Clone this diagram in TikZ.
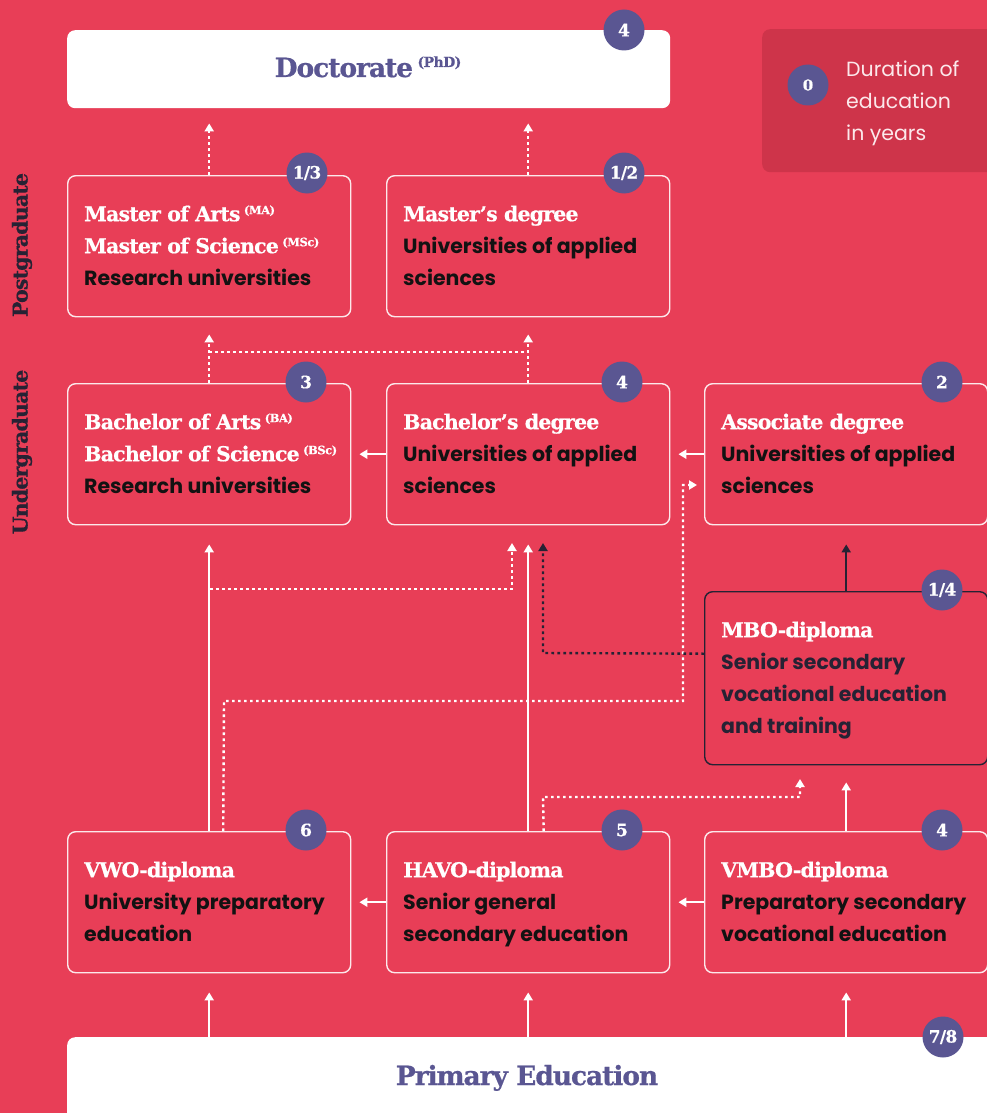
\documentclass[tikz,border=0pt]{standalone}
\usepackage{fontspec}
\setmainfont{DejaVu Serif}[BoldFeatures={LetterSpace=-4,FakeBold=0.6}]
\setsansfont{Poppins}
\usetikzlibrary{arrows.meta,calc}
\definecolor{bg}{HTML}{E83E57}
\definecolor{legbg}{HTML}{CE344A}
\definecolor{purp}{HTML}{5A5692}
\definecolor{ink}{HTML}{121212}
\definecolor{navy}{HTML}{262234}
\definecolor{soft}{HTML}{FCE8EB}
\newcommand{\Ttl}{\rmfamily\bfseries\fontsize{20.5}{32}\selectfont}
\newcommand{\Bdy}{\sffamily\bfseries\fontsize{20.5}{32}\selectfont}
\newcommand{\SupT}[1]{\,\raisebox{7pt}{\fontsize{11.5}{11.5}\selectfont #1}}
\newcommand{\Fst}{\rule{0pt}{20pt}}
\begin{document}
\begin{tikzpicture}[x=1pt,y=-1pt,
  box/.style={draw=soft, line width=1.4pt, rounded corners=8pt, anchor=north west, inner sep=0pt, minimum width=283pt, minimum height=141pt},
  badge/.style={circle, fill=purp, text=white, minimum size=41pt, inner sep=0pt, font=\rmfamily\bfseries\fontsize{17}{17}\selectfont},
  txt/.style={anchor=north west, align=left, inner sep=0pt, font=\Bdy, text=ink},
  arr/.style={draw=white, line width=2.4pt, -{Triangle[width=9pt,length=8pt]}},
  darr/.style={arr, draw=navy},
  dotarr/.style={arr, dash pattern=on 2.6pt off 3.4pt},
  ddotarr/.style={darr, dash pattern=on 2.6pt off 3.4pt},
  dotl/.style={draw=white, line width=2.4pt, dash pattern=on 2.6pt off 3.4pt},
  side/.style={rotate=90, font=\rmfamily\bfseries\fontsize{20.5}{20.5}\selectfont, text=navy, inner sep=0pt}
]
\clip (0,0) rectangle (987,1113);
\fill[bg] (0,0) rectangle (987,1113);

% side labels
\node[side] (pg) at (22,245) {Postgraduate};
\node[side] (ug) at (22,452) {Undergraduate};

% legend
\node[fill=legbg, rounded corners=8pt, anchor=north west, minimum width=240pt, minimum height=143pt, inner sep=0pt] (leg) at (762,29) {};
\node[badge, font=\rmfamily\bfseries\fontsize{15}{15}\selectfont] (legb) at (808,85) {0};
\node[anchor=north west, align=left, inner sep=0pt, text=soft, font=\sffamily\fontsize{20.5}{32}\selectfont] (legt) at (846,56) {\Fst Duration of\\education\\in years};

% doctorate
\node[fill=white, rounded corners=8pt, anchor=north west, minimum width=603pt, minimum height=78pt, inner sep=0pt] (doc) at (67,30) {};
\node[anchor=base, inner sep=0pt, text=purp, font=\rmfamily\bfseries\fontsize{26.5}{27}\selectfont] (doct) at (368,77) {Doctorate\,\raisebox{10pt}{\fontsize{14}{14}\selectfont (PhD)}};
\node[badge] (docb) at (624,30) {4};

% master row
\node[box] (ma) at (67,175) {};
\node[txt] (mat) at ($(ma.north west)+(17,26)$) {\Fst{\Ttl\color{white}Master of Arts\SupT{(MA)}}\\{\Ttl\color{white}Master of Science\SupT{(MSc)}}\\Research universities};
\node[badge] (mab) at (307,173) {1/3};

\node[box] (md) at (386,175) {};
\node[txt] (mdt) at ($(md.north west)+(17,26)$) {\Fst{\Ttl\color{white}Master’s degree}\\Universities of applied\\sciences};
\node[badge] (mdb) at (624,173) {1/2};

% bachelor row
\node[box] (ba) at (67,383) {};
\node[txt] (bat) at ($(ba.north west)+(17,26)$) {\Fst{\Ttl\color{white}Bachelor of Arts\SupT{(BA)}}\\{\Ttl\color{white}Bachelor of Science\SupT{(BSc)}}\\Research universities};
\node[badge] (bab) at (306,382) {3};

\node[box] (bd) at (386,383) {};
\node[txt] (bdt) at ($(bd.north west)+(17,26)$) {\Fst{\Ttl\color{white}Bachelor’s degree}\\Universities of applied\\sciences};
\node[badge] (bdb) at (622,382) {4};

\node[box] (ad) at (704,383) {};
\node[txt] (adt) at ($(ad.north west)+(17,26)$) {\Fst{\Ttl\color{white}Associate degree}\\Universities of applied\\sciences};
\node[badge] (adb) at (942,382) {2};

% MBO
\node[box, draw=navy, minimum height=173pt] (mbo) at (704,591) {};
\node[txt, text=navy] (mbot) at ($(mbo.north west)+(17,26)$) {\Fst{\Ttl\color{white}MBO-diploma}\\Senior secondary\\vocational education\\and training};
\node[badge] (mbob) at (942,590) {1/4};

% secondary row
\node[box] (vwo) at (67,831) {};
\node[txt] (vwot) at ($(vwo.north west)+(17,26)$) {\Fst{\Ttl\color{white}VWO-diploma}\\University preparatory\\education};
\node[badge] (vwob) at (306,830) {6};

\node[box] (havo) at (386,831) {};
\node[txt] (havot) at ($(havo.north west)+(17,26)$) {\Fst{\Ttl\color{white}HAVO-diploma}\\Senior general\\secondary education};
\node[badge] (havob) at (622,830) {5};

\node[box] (vmbo) at (704,831) {};
\node[txt] (vmbot) at ($(vmbo.north west)+(17,26)$) {\Fst{\Ttl\color{white}VMBO-diploma}\\Preparatory secondary\\vocational education};
\node[badge] (vmbob) at (942,830) {4};

% primary
\node[fill=white, rounded corners=8pt, anchor=north west, minimum width=940pt, minimum height=110pt, inner sep=0pt] (prim) at (67,1037) {};
\node[anchor=base, inner sep=0pt, text=purp, font=\rmfamily\bfseries\fontsize{26.5}{27}\selectfont] (primt) at (527,1085) {Primary Education};
\node[badge] (primb) at (943,1037) {7/8};

% connectors: to doctorate
\draw[dotarr, shorten >=15pt] (ma.north) -- (ma.north |- doc.south);
\draw[dotarr, shorten >=15pt] (md.north) -- (md.north |- doc.south);
% bachelor to master
\draw[dotarr, shorten >=17pt] (ba.north) -- (ba.north |- ma.south);
\draw[dotarr, shorten >=17pt] (bd.north) -- (bd.north |- md.south);
\coordinate (hl1) at ($(ba.north)+(0,-31)$);
\coordinate (hl2) at ($(bd.north)+(0,-31)$);
\draw[dotl] (hl1) -- (hl2);
% horizontal solid
\draw[arr, shorten >=8pt] (bd.west) -- (ba.east);
\draw[arr, shorten >=8pt] (ad.west) -- (bd.east);
\draw[arr, shorten >=8pt] (havo.west) -- (vwo.east);
\draw[arr, shorten >=8pt] (vmbo.west) -- (havo.east);
% vertical solid
\draw[arr, shorten >=19pt] (vwo.north) -- (ba.south);
\draw[arr, shorten >=19pt] (havo.north) -- (bd.south);
\draw[darr, shorten >=19pt] (mbo.north) -- (ad.south);
\draw[arr, shorten >=17pt] (vmbo.north) -- (vmbo.north |- mbo.south);
\draw[arr, shorten >=19pt] (vwo.south |- prim.north) -- (vwo.south);
\draw[arr, shorten >=19pt] (havo.south |- prim.north) -- (havo.south);
\draw[arr, shorten >=19pt] (vmbo.south |- prim.north) -- (vmbo.south);
% dotted routes
\coordinate (v1) at ($(vwo.north)+(14,0)$);
\draw[dotarr, shorten >=7pt] (v1) -- (224,701) -- (683,701) -- (683,485) -- (ad.west |- 0,485);
\coordinate (v2) at (210,589);
\draw[dotarr] (v2) -- (512,589) -- (512,543);
\coordinate (m1) at ($(mbo.west)+(0,-24.5)$);
\draw[ddotarr] (m1) -- (543,653) -- (543,543);
\coordinate (h1) at ($(havo.north)+(15.5,0)$);
\draw[dotarr] (h1) -- (543,797) -- (800,797) -- (800,779);
\end{tikzpicture}
\end{document}
